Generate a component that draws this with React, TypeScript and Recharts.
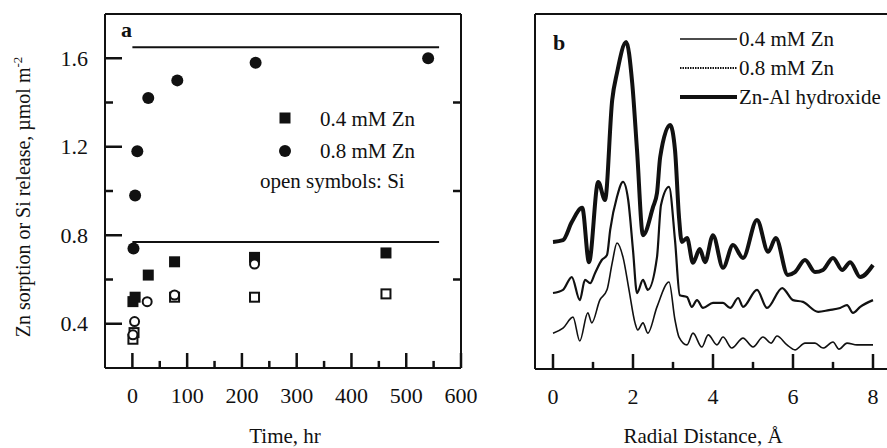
import { ComposedChart, Line, ReferenceLine, Scatter, ScatterChart, XAxis, YAxis } from 'recharts';

const FONT = '"Liberation Serif", "Times New Roman", serif';
const INK = '#111';

// ---- panel a: sorption kinetics ----
const zn08Time = [2, 5, 9, 29, 82, 225, 540];
const zn08Sorbed = [0.74, 0.98, 1.18, 1.42, 1.5, 1.58, 1.6];
const zn04Time = [1, 5, 29, 77, 223, 463];
const zn04Sorbed = [0.5, 0.52, 0.62, 0.68, 0.7, 0.72];
const si08Time = [1, 4, 27, 77, 223];
const si08Release = [0.35, 0.41, 0.5, 0.53, 0.67];
const si04Time = [1, 3, 77, 223, 463];
const si04Release = [0.33, 0.36, 0.52, 0.52, 0.535];
const plateauLevels = [1.65, 0.77];
const plateauSpan = [0, 560];
const timeDomain = [-50, 600];
const sorptionDomain = [0.2, 1.8];
const timeTicks = [0, 100, 200, 300, 400, 500, 600];
const timeMinorTicks = [50, 150, 250, 350, 450, 550];
const sorptionTicks = [0.4, 0.8, 1.2, 1.6];
const sorptionMinorTicks = [0.6, 1.0, 1.4];

// ---- panel b: radial structure functions ----
const hydroxideR = [0, 0.25, 0.47, 0.73, 0.9, 1.13, 1.3, 1.48, 1.6, 1.83, 1.98, 2.1, 2.25, 2.5, 2.6, 2.68, 2.93, 3.05, 3.15, 3.22, 3.35, 3.5, 3.67, 3.8, 4.0, 4.25, 4.5, 4.75, 5.1, 5.38, 5.57, 5.87, 6.05, 6.3, 6.55, 6.75, 7.0, 7.23, 7.43, 7.68, 8.0];
const hydroxideG = [3.58, 3.63, 4.14, 4.54, 3.01, 5.27, 4.76, 7.58, 8.34, 9.21, 8.06, 6.17, 3.77, 4.56, 4.96, 5.97, 6.87, 6.17, 4.28, 3.58, 3.69, 2.99, 3.38, 3.01, 3.77, 2.85, 3.49, 3.13, 4.2, 3.3, 3.69, 2.65, 2.73, 3.07, 2.73, 2.79, 3.13, 2.79, 3.01, 2.59, 2.93];
const mid08R = [0, 0.25, 0.47, 0.67, 0.8, 0.93, 1.05, 1.22, 1.35, 1.43, 1.6, 1.75, 1.88, 2.0, 2.1, 2.25, 2.37, 2.6, 2.7, 2.9, 3.05, 3.17, 3.35, 3.47, 3.6, 3.75, 4.0, 4.25, 4.43, 4.63, 4.75, 5.1, 5.35, 5.73, 6.0, 6.25, 6.63, 6.9, 7.18, 7.35, 7.5, 7.68, 8.0];
const mid08G = [2.14, 2.23, 2.59, 1.94, 2.51, 2.42, 2.7, 3.07, 3.21, 3.92, 4.85, 5.27, 4.76, 3.35, 2.14, 2.51, 2.23, 3.15, 4.62, 5.13, 3.63, 2.08, 2.03, 1.75, 1.94, 1.72, 1.86, 1.86, 1.72, 2.0, 1.75, 2.23, 1.72, 2.28, 1.94, 1.89, 1.61, 1.66, 1.72, 1.8, 1.58, 1.75, 1.94];
const low04R = [0, 0.25, 0.5, 0.67, 0.87, 0.97, 1.17, 1.35, 1.48, 1.6, 1.75, 1.9, 2.05, 2.12, 2.25, 2.37, 2.6, 2.9, 3.05, 3.15, 3.35, 3.5, 3.72, 3.88, 4.1, 4.25, 4.47, 4.75, 5.0, 5.25, 5.45, 5.6, 5.85, 6.05, 6.3, 6.55, 6.75, 7.0, 7.15, 7.35, 7.6, 8.0];
const low04G = [1.01, 1.15, 1.46, 0.79, 1.58, 1.3, 1.94, 2.23, 2.99, 3.55, 3.15, 2.23, 1.3, 1.1, 1.3, 1.01, 1.75, 2.45, 1.38, 0.9, 0.68, 1.01, 0.62, 0.96, 0.68, 0.9, 0.59, 0.87, 0.62, 0.9, 0.73, 0.93, 0.68, 0.54, 0.73, 0.73, 0.59, 0.76, 0.56, 0.73, 0.68, 0.68];
const radialDomain = [-0.45, 8.35];
const radialTicks = [0, 2, 4, 6, 8];
const radialMinorTicks = [1, 3, 5, 7];

const zip = (xs: number[], ys: number[], kx: string, ky: string) =>
  xs.map((x, i) => ({ [kx]: x, [ky]: ys[i] }));

// minor tick stubs: short segments on the frame, lengths in data units
const timeMinorStub = 0.032;
const sorptionMinorStub = 14.6;
const radialMinorStub = 0.2;

const filledCircle = (p: any) => <circle cx={p.cx} cy={p.cy} r={6} fill={INK} />;
const filledSquare = (p: any) => <rect x={p.cx - 5.5} y={p.cy - 5.5} width={11} height={11} fill={INK} />;
const openCircle = (p: any) => <circle cx={p.cx} cy={p.cy} r={4.5} fill="#fff" stroke={INK} strokeWidth={2} />;
const openSquare = (p: any) => <rect x={p.cx - 4.5} y={p.cy - 4.5} width={9} height={9} fill="#fff" stroke={INK} strokeWidth={2} />;

const textStyle = { fontFamily: FONT, fontSize: 22, fill: INK };
const axisStroke = { stroke: INK, strokeWidth: 2 };
const tickStroke = { stroke: INK, strokeWidth: 2.5 };

// major ticks are the axes' own tick lines, turned inward with a negative tickSize
const bottomLabel = (props: any) => (
  <text x={props.x} y={Number(props.y) + 50} textAnchor="middle" {...textStyle}>
    {props.payload.value}
  </text>
);

const leftLabel = (props: any) => (
  <text x={Number(props.x) - 34} y={Number(props.y) + 7.5} textAnchor="end" {...textStyle}>
    {props.payload.value.toFixed(1)}
  </text>
);

const PanelA = () => (
  <ScatterChart width={490} height={448} margin={{ top: 14, right: 20, left: 0, bottom: 50 }}>
    <XAxis type="number" dataKey="t" domain={timeDomain} ticks={timeTicks} interval={0} height={30}
      tickSize={-15} tickMargin={0} tickLine={tickStroke} axisLine={axisStroke} tick={bottomLabel} />
    <YAxis type="number" dataKey="v" domain={sorptionDomain} ticks={sorptionTicks} interval={0} width={105}
      tickSize={-17} tickMargin={0} tickLine={tickStroke} axisLine={axisStroke} tick={leftLabel} />
    <YAxis yAxisId="frame" orientation="right" type="number" domain={sorptionDomain} ticks={sorptionTicks}
      interval={0} width={9} tickSize={-17} tickMargin={0} tickLine={tickStroke} axisLine={axisStroke}
      tick={() => <g />} />
    <ReferenceLine y={sorptionDomain[1]} stroke={INK} strokeWidth={2} ifOverflow="visible" />
    {timeMinorTicks.map(t => (
      <ReferenceLine key={`t${t}`} segment={[{ x: t, y: sorptionDomain[0] }, { x: t, y: sorptionDomain[0] + timeMinorStub }]}
        stroke={INK} strokeWidth={2.5} ifOverflow="visible" />
    ))}
    {sorptionMinorTicks.map(v => (
      <ReferenceLine key={`l${v}`} segment={[{ x: timeDomain[0], y: v }, { x: timeDomain[0] + sorptionMinorStub, y: v }]}
        stroke={INK} strokeWidth={2.5} ifOverflow="visible" />
    ))}
    {sorptionMinorTicks.map(v => (
      <ReferenceLine key={`r${v}`} segment={[{ x: timeDomain[1] - sorptionMinorStub, y: v }, { x: timeDomain[1], y: v }]}
        stroke={INK} strokeWidth={2.5} ifOverflow="visible" />
    ))}
    {plateauLevels.map(level => (
      <ReferenceLine key={level} segment={[{ x: plateauSpan[0], y: level }, { x: plateauSpan[1], y: level }]}
        stroke={INK} strokeWidth={2} />
    ))}
    <Scatter data={zip(zn08Time, zn08Sorbed, 't', 'v')} shape={filledCircle} isAnimationActive={false} />
    <Scatter data={zip(zn04Time, zn04Sorbed, 't', 'v')} shape={filledSquare} isAnimationActive={false} />
    <Scatter data={zip(si04Time, si04Release, 't', 'v')} shape={openSquare} isAnimationActive={false} />
    <Scatter data={zip(si08Time, si08Release, 't', 'v')} shape={openCircle} isAnimationActive={false} />
  </ScatterChart>
);

const PanelB = () => (
  <ComposedChart width={417} height={448} margin={{ top: 14, right: 0, left: 0, bottom: 49 }}>
    <XAxis type="number" dataKey="r" domain={radialDomain} ticks={radialTicks} interval={0} height={30}
      allowDataOverflow tickSize={-15} tickMargin={0} tickLine={tickStroke} axisLine={axisStroke} tick={bottomLabel} />
    <YAxis type="number" domain={[0, 10]} width={65} tick={false} tickLine={false} axisLine={axisStroke} />
    <ReferenceLine y={10} stroke={INK} strokeWidth={2} ifOverflow="visible" />
    {radialMinorTicks.map(r => (
      <ReferenceLine key={`m${r}`} segment={[{ x: r, y: 0 }, { x: r, y: radialMinorStub }]}
        stroke={INK} strokeWidth={2.5} ifOverflow="visible" />
    ))}
    <Line data={zip(low04R, low04G, 'r', 'g')} dataKey="g" type="monotone" stroke={INK} strokeWidth={1.6} dot={false} isAnimationActive={false} />
    <Line data={zip(mid08R, mid08G, 'r', 'g')} dataKey="g" type="monotone" stroke={INK} strokeWidth={2.2} dot={false} isAnimationActive={false} />
    <Line data={zip(hydroxideR, hydroxideG, 'r', 'g')} dataKey="g" type="monotone" stroke={INK} strokeWidth={4} dot={false} isAnimationActive={false} />
  </ComposedChart>
);

export default function App() {
  return (
    <div style={{ position: 'fixed', left: 0, top: 0, width: 887, height: 448, background: '#fff' }}>
      <div style={{ position: 'absolute', left: 0, top: 0 }}>
        <PanelA />
      </div>
      <div style={{ position: 'absolute', left: 470, top: 0 }}>
        <PanelB />
      </div>
      {/* panel labels, legends and axis titles */}
      <svg width={887} height={448} style={{ position: 'absolute', left: 0, top: 0, pointerEvents: 'none' }}>
        <g fontFamily={FONT} fill={INK}>
          <text x={121} y={37} fontSize={22} fontWeight="bold">a</text>
          <text x={553} y={50} fontSize={22} fontWeight="bold">b</text>

          <rect x={279.5} y={112.5} width={11} height={11} fill={INK} />
          <text x={320} y={126} fontSize={21}>0.4 mM Zn</text>
          <circle cx={285} cy={151} r={6} fill={INK} />
          <text x={320} y={158} fontSize={21}>0.8 mM Zn</text>
          <text x={260} y={188} fontSize={21}>open symbols: Si</text>

          <line x1={680} x2={737} y1={39} y2={39} stroke={INK} strokeWidth={1.6} />
          <text x={739} y={46} fontSize={21}>0.4 mM Zn</text>
          <line x1={680} x2={737} y1={68} y2={68} stroke={INK} strokeWidth={2} strokeDasharray="1.5 1" />
          <text x={739} y={75} fontSize={21}>0.8 mM Zn</text>
          <line x1={680} x2={737} y1={97} y2={97} stroke={INK} strokeWidth={4} />
          <text x={739} y={104} fontSize={21}>Zn-Al hydroxide</text>

          <text x={285} y={443} fontSize={21} textAnchor="middle">Time, hr</text>
          <text x={703} y={443} fontSize={21} textAnchor="middle">Radial Distance, Å</text>
          <text transform="translate(30, 197) rotate(-90)" fontSize={20} textAnchor="middle">
            Zn sorption or Si release, µmol m<tspan dy={-8} fontSize={13}>-2</tspan>
          </text>
        </g>
      </svg>
    </div>
  );
}
